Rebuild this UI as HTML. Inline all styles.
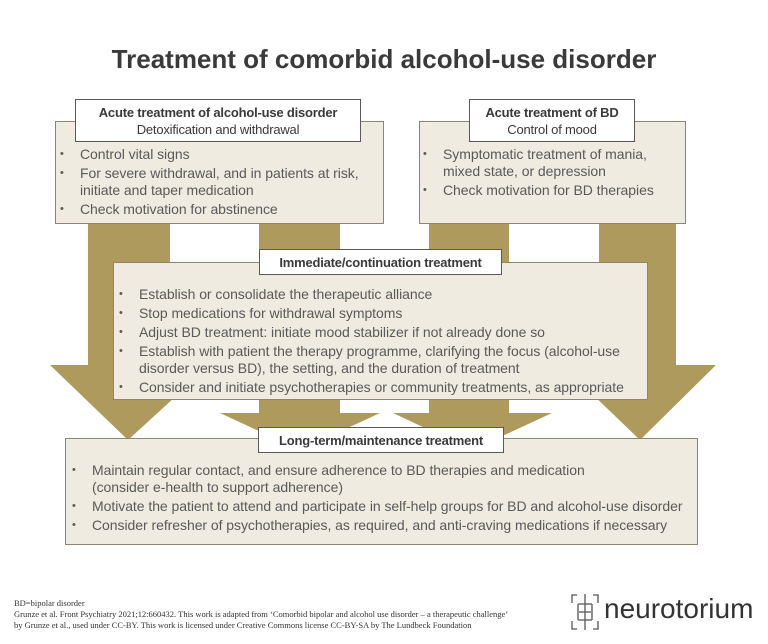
<!DOCTYPE html>
<html><head><meta charset="utf-8"><style>
body{margin:0;width:768px;height:644px;background:#fff;position:relative;overflow:hidden;font-family:"Liberation Sans",sans-serif;color:#595959}
.abs{position:absolute}
h1{position:absolute;top:44px;left:0;width:768px;text-align:center;margin:0;font-family:"Liberation Sans",sans-serif;font-size:26px;font-weight:bold;color:#3a3a3a}
.box{position:absolute;background:#efebe0;border:1.5px solid #8d8570;box-sizing:border-box}
.tbox{position:absolute;background:#fff;border:1.5px solid #5a5a5a;box-sizing:border-box;text-align:center;font-size:13px;color:#3a3a3a;line-height:17px;letter-spacing:-0.2px;white-space:nowrap}
ul{margin:0;padding:0;list-style:none;position:absolute;font-size:14px;line-height:17px;letter-spacing:-0.05px;white-space:nowrap}
li{position:relative;padding-left:22px;margin-bottom:2px}
li:before{content:"•";position:absolute;left:2px;font-size:11px}
.foot{position:absolute;left:14px;font-family:"Liberation Serif",serif;font-size:8.5px;color:#333;line-height:11px}
</style></head><body>
<h1>Treatment of comorbid alcohol-use disorder</h1>
<svg class="abs" style="left:0;top:0" width="768" height="644">
<g fill="#ad9a5c">
<polygon points="88,220 170,220 170,365 210,365 128,440 50,365 88,365"/>
<polygon points="259,220 340,220 340,413 380,413 300,450 220,413 259,413"/>
<polygon points="429,220 509,220 509,413 552,413 472,450 393,413 429,413"/>
<polygon points="599,220 676,220 676,365 716,365 640,440 562,365 599,365"/>
</g></svg>
<div class="box" style="left:55px;top:121px;width:329px;height:103px"></div>
<div class="tbox" style="left:75px;top:99px;width:286px;height:43px;padding-top:4px"><b>Acute treatment of alcohol-use disorder</b><br>Detoxification and withdrawal</div>
<ul style="left:58px;top:146px">
<li>Control vital signs</li>
<li>For severe withdrawal, and in patients at risk,<br>initiate and taper medication</li>
<li>Check motivation for abstinence</li></ul>
<div class="box" style="left:419px;top:121px;width:267px;height:103px"></div>
<div class="tbox" style="left:469px;top:99px;width:166px;height:43px;padding-top:4px"><b>Acute treatment of BD</b><br>Control of mood</div>
<ul style="left:421px;top:146px">
<li>Symptomatic treatment of mania,<br>mixed state, or depression</li>
<li>Check motivation for BD therapies</li></ul>
<div class="box" style="left:113px;top:262px;width:535px;height:138px"></div>
<div class="tbox" style="left:259px;top:249px;width:243px;height:26px;padding-top:4px"><b>Immediate/continuation treatment</b></div>
<ul style="left:117px;top:286px">
<li>Establish or consolidate the therapeutic alliance</li>
<li>Stop medications for withdrawal symptoms</li>
<li>Adjust BD treatment: initiate mood stabilizer if not already done so</li>
<li>Establish with patient the therapy programme, clarifying the focus (alcohol-use<br>disorder versus BD), the setting, and the duration of treatment</li>
<li>Consider and initiate psychotherapies or community treatments, as appropriate</li></ul>
<div class="box" style="left:65px;top:438px;width:633px;height:107px"></div>
<div class="tbox" style="left:258px;top:427px;width:246px;height:26px;padding-top:4px"><b>Long-term/maintenance treatment</b></div>
<ul style="left:70px;top:462px">
<li>Maintain regular contact, and ensure adherence to BD therapies and medication<br>(consider e-health to support adherence)</li>
<li>Motivate the patient to attend and participate in self-help groups for BD and alcohol-use disorder</li>
<li>Consider refresher of psychotherapies, as required, and anti-craving medications if necessary</li></ul>
<div class="foot" style="top:598px">BD=bipolar disorder<br>Grunze et al. Front Psychiatry 2021;12:660432. This work is adapted from ‘Comorbid bipolar and alcohol use disorder – a therapeutic challenge’<br>by Grunze et al., used under CC-BY. This work is licensed under Creative Commons license CC-BY-SA by The Lundbeck Foundation</div>
<svg class="abs" style="left:569px;top:592px" width="32" height="40" fill="none" stroke="#555" stroke-width="1.3">
<path d="M8 3h-5v8M24 3h5v8M3 29v8h5M29 29v8h-5M16 2v36M9 12h14M10 20h12M9 28h14M9 12v16M23 12v16"/></svg>
<div class="abs" style="left:604px;top:593px;font-family:'Liberation Sans',sans-serif;font-size:28px;color:#333">neurotorium</div>
</body></html>
